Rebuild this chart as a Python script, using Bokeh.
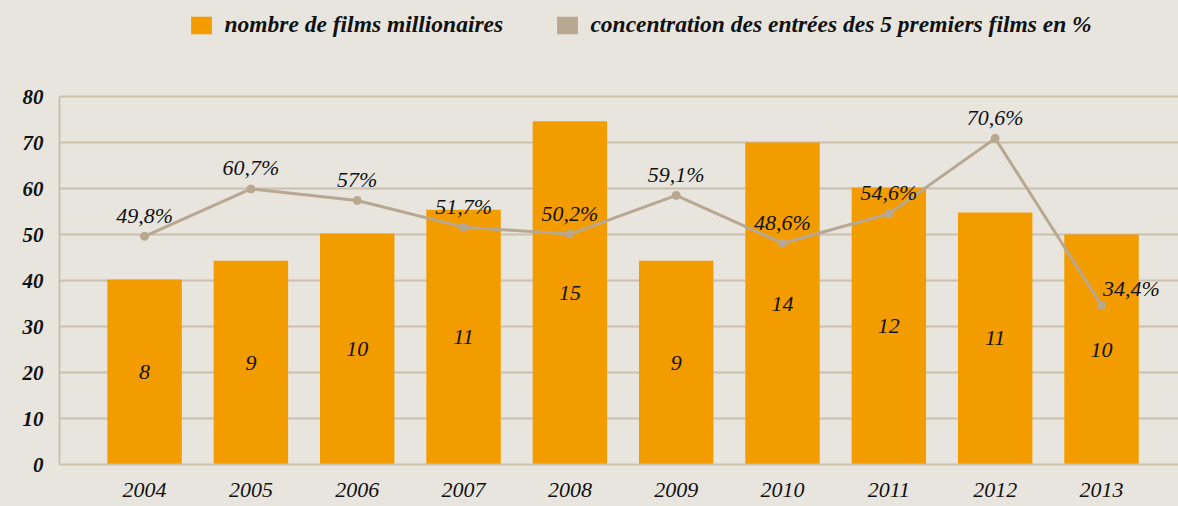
from bokeh.plotting import figure
from bokeh.models import Range1d, FixedTicker, Legend, LegendItem, ColumnDataSource
from bokeh.core.properties import value
from bokeh.embed import file_html
from bokeh.resources import INLINE

# ---- data ----
years = [2004, 2005, 2006, 2007, 2008, 2009, 2010, 2011, 2012, 2013]
film_count_labels = ["8", "9", "10", "11", "15", "9", "14", "12", "11", "10"]
bar_heights = [40.2, 44.3, 50.2, 55.4, 74.6, 44.3, 70.0, 60.2, 54.8, 50.0]
concentration = [49.6, 59.9, 57.4, 51.6, 50.1, 58.5, 48.1, 54.5, 70.9, 34.6]
concentration_labels = ["49,8%", "60,7%", "57%", "51,7%", "50,2%", "59,1%",
                        "48,6%", "54,6%", "70,6%", "34,4%"]
y_ticks = [0, 10, 20, 30, 40, 50, 60, 70, 80]
series_names = ["nombre de films millionaires",
                "concentration des entrées des 5 premiers films en %"]

# ---- style ----
BG = "#e8e5df"
ORANGE = "#f39c00"
TAN = "#b8a791"
GRID = "#cbbfad"
FONT = value("Liberation Serif")
TXT = "#111111"

# frame spans from the very top (legend lives inside it) down to the x axis
p = figure(width=1178, height=506, output_backend="svg", toolbar_location=None,
           x_range=Range1d(2003.2, 2013.724), y_range=Range1d(0, 100.87),
           min_border_left=59, min_border_right=0, min_border_top=0,
           min_border_bottom=42)
p.background_fill_color = BG
p.border_fill_color = BG
p.outline_line_color = None

bar_src = ColumnDataSource(dict(x=years, top=bar_heights,
                                mid=[h / 2 for h in bar_heights],
                                lab=film_count_labels))
bars = p.vbar(x="x", top="top", width=0.7, source=bar_src,
              fill_color=ORANGE, line_color=None)
p.text(x="x", y="mid", text="lab", source=bar_src, text_font=FONT,
       text_font_style="italic", text_font_size="22px", text_align="center",
       text_baseline="middle", text_color=TXT)

line_src = ColumnDataSource(dict(x=years, y=concentration, lab=concentration_labels))
p.line(x="x", y="y", source=line_src, line_color=TAN, line_width=3)
p.scatter(x="x", y="y", source=line_src, size=8, fill_color=TAN, line_color=TAN)

main_src = ColumnDataSource(dict(x=years[:-1], y=concentration[:-1],
                                 lab=concentration_labels[:-1]))
p.text(x="x", y="y", text="lab", source=main_src, text_font=FONT,
       text_font_style="italic", text_font_size="22px", text_align="center",
       text_baseline="middle", y_offset=-21, text_color=TXT)
last_src = ColumnDataSource(dict(x=years[-1:], y=concentration[-1:],
                                 lab=concentration_labels[-1:]))
p.text(x="x", y="y", text="lab", source=last_src, text_font=FONT,
       text_font_style="italic", text_font_size="22px", text_align="center",
       text_baseline="middle", x_offset=30, y_offset=-17, text_color=TXT)

# zero-height renderer that only provides the second legend swatch
dummy = p.vbar(x=years[:1], top=[0], width=0.7, fill_color=TAN, line_color=None)

# ---- axes ----
p.xgrid.grid_line_color = None
p.ygrid.ticker = FixedTicker(ticks=y_ticks)
p.ygrid.grid_line_color = GRID
p.ygrid.grid_line_width = 2

p.yaxis.ticker = FixedTicker(ticks=y_ticks)
p.yaxis.bounds = (0, 80)
p.xaxis.ticker = FixedTicker(ticks=years)
p.xaxis.major_label_overrides = {y: str(y) for y in years}
for ax in (p.xaxis, p.yaxis):
    ax.axis_line_color = GRID
    ax.axis_line_width = 2
    ax.major_tick_line_color = None
    ax.minor_tick_line_color = None
    ax.major_tick_out = 0
    ax.major_tick_in = 0
    ax.major_label_text_font = "Liberation Serif"
    ax.major_label_text_color = TXT
p.yaxis.major_label_text_font_style = "bold italic"
p.yaxis.major_label_text_font_size = "21px"
p.yaxis.major_label_standoff = 16
p.xaxis.major_label_text_font_style = "italic"
p.xaxis.major_label_text_font_size = "22px"
p.xaxis.major_label_standoff = 18

# ---- legends ----
def make_legend(label, rend, loc, size):
    lg = Legend(items=[LegendItem(label=label, renderers=[rend])], location=loc,
                orientation="horizontal", glyph_width=26, glyph_height=22,
                label_standoff=10, padding=0, margin=0, spacing=0,
                border_line_color=None, background_fill_alpha=0,
                label_text_font="Liberation Serif", label_text_font_style="bold italic",
                label_text_font_size=size, label_text_color=TXT, label_height=22)
    p.add_layout(lg, "center")

make_legend(series_names[0], bars, (129.4, 426), "23.5px")
make_legend(series_names[1], dummy, (495.4, 426), "23.5px")

html = file_html(p, INLINE)
html = html.replace("</head>",
                    "<style>html, body { background: %s; }</style></head>" % BG, 1)
open("out.html", "w").write(html)
